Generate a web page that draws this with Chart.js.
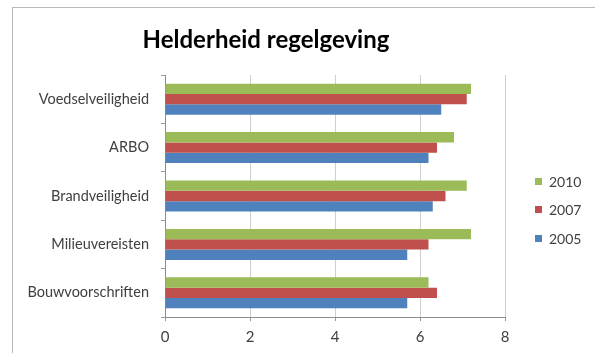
<!DOCTYPE html>
<html>
<head>
<meta charset="utf-8">
<script src="https://cdn.jsdelivr.net/npm/chart.js@4/dist/chart.umd.min.js"></script>
<style>
    html, body { margin: 0; padding: 0; background: #fff; }
    #wrap { position: relative; width: 595px; height: 353px; overflow: hidden; }
    #frame { position: absolute; left: 12px; top: 7px; width: 700px; height: 500px;
             border-left: 1px solid #b8b8b8; border-top: 1px solid #b8b8b8; pointer-events: none; }
    #title { position: absolute; left: 66px; width: 400px; top: 24px; line-height: 29px; text-align: center;
             font: bold 24px Lato, sans-serif; color: #000; }
    #legend { position: absolute; left: 535px; top: 167px; font: 14px Lato, sans-serif; color: #404040; }
    #legend .item { height: 28.5px; display: flex; align-items: center; }
    #legend .box { width: 7px; height: 7px; margin-right: 7px; }
</style>
</head>
<body>
<div id="wrap">
    <canvas id="chart"></canvas>
    <div id="frame"></div>
    <div id="title">Helderheid regelgeving</div>
    <div id="legend"></div>
</div>
<script>
const categories = ['Voedselveiligheid', 'ARBO', 'Brandveiligheid', 'Milieuvereisten', 'Bouwvoorschriften'];
const years = ['2010', '2007', '2005'];
const values2010 = [7.2, 6.8, 7.1, 7.2, 6.2];
const values2007 = [7.1, 6.4, 6.6, 6.2, 6.4];
const values2005 = [6.5, 6.2, 6.3, 5.7, 5.7];
const xTicks = [0, 2, 4, 6, 8];

const colors = ['#9bbb59', '#c0504d', '#4f81bd'];
const series = [values2010, values2007, values2005];

document.addEventListener('DOMContentLoaded', () => {
    const legend = document.getElementById('legend');
    years.forEach((y, i) => {
        const item = document.createElement('div');
        item.className = 'item';
        item.innerHTML = `<span class="box" style="background:${colors[i]}"></span><span>${y}</span>`;
        legend.appendChild(item);
    });

    const ctx = document.getElementById('chart');
    new Chart(ctx, {
        type: 'bar',
        data: {
            labels: categories,
            datasets: years.map((y, i) => ({
                label: y,
                data: series[i],
                backgroundColor: colors[i],
                borderWidth: 0,
                categoryPercentage: 0.64,
                barPercentage: 1.0
            }))
        },
        options: {
            indexAxis: 'y',
            responsive: true,
            maintainAspectRatio: false,
            animation: false,
            devicePixelRatio: 1,
            layout: { padding: { left: 0, right: 90, top: 75, bottom: 0 } },
            plugins: {
                legend: { display: false },
                tooltip: { enabled: false }
            },
            scales: {
                x: {
                    min: xTicks[0],
                    max: xTicks[xTicks.length - 1],
                    afterBuildTicks: (scale) => { scale.ticks = xTicks.map(v => ({ value: v })); },
                    afterFit: (scale) => { scale.height = 36; },
                    grid: { color: '#cfcfcf', tickColor: '#9a9a9a', tickLength: 4 },
                    border: { color: '#8c8c8c' },
                    ticks: { color: '#404040', padding: 7, font: { family: 'Lato', size: 15 } }
                },
                y: {
                    afterFit: (scale) => { scale.width = 165; },
                    grid: { drawOnChartArea: false, tickColor: '#9a9a9a', tickLength: 4 },
                    border: { color: '#8c8c8c' },
                    ticks: { color: '#404040', padding: 12, font: { family: 'Lato', size: 14.5 } }
                }
            }
        }
    });
});
</script>
</body>
</html>
